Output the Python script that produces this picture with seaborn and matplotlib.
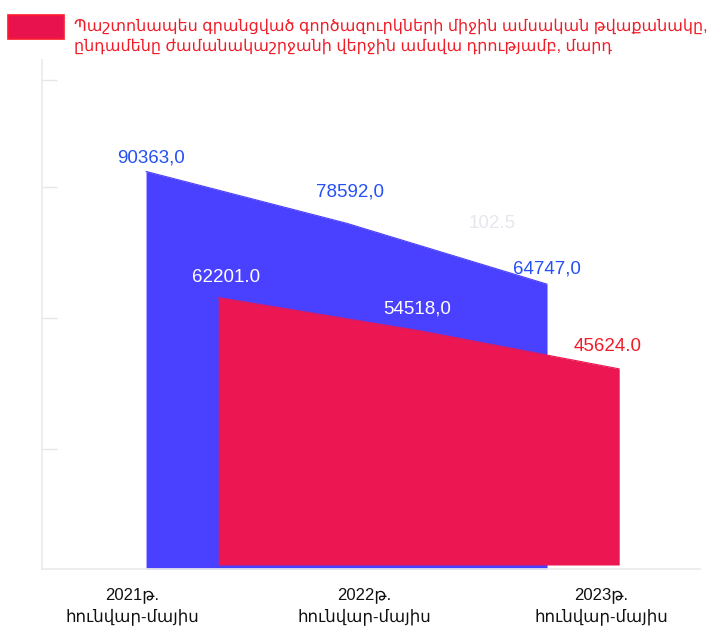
import numpy as np
import pandas as pd
import matplotlib.pyplot as plt
from matplotlib.patches import Rectangle
import seaborn as sns

PERIODS = ['2021թ.\nհունվար-մայիս', '2022թ.\nհունվար-մայիս', '2023թ.\nհունվար-մայիս']
BLUE_VALUES = [90363.0, 78592.0, 64747.0]
RED_VALUES = [62201.0, 54518.0, 45624.0]
BLUE_LABELS = ['90363,0', '78592,0', '64747,0']
RED_LABELS = ['62201.0', '54518,0', '45624.0']
EXTRA_LABEL = '102.5'
LEGEND_TEXT = ('Պաշտոնապես գրանցված գործազուրկների միջին ամսական թվաքանակը,\n'
               'ընդամենը ժամանակաշրջանի վերջին ամսվա դրությամբ, մարդ')

BLUE = '#4a40ff'
RED = '#eb1652'
BLUE_TXT = '#2450f5'
RED_TXT = '#f01c28'
W, H = 725, 627

sns.set_theme(style='white')
plt.rcParams['font.family'] = ['Liberation Sans', 'DejaVu Sans']

fig = plt.figure(figsize=(W / 100, H / 100), dpi=100)
ax = fig.add_axes([42 / W, 1 - 569 / H, 658 / W, 509 / H])
ymax = 115700
ax.set_xlim(-0.519, 2.763)
ax.set_ylim(0, ymax)

df_blue = pd.DataFrame({'x': np.arange(3), 'value': BLUE_VALUES})
df_red = pd.DataFrame({'x': np.arange(3) + 0.36, 'value': RED_VALUES})

# back series (blue)
ax.fill_between(df_blue['x'], 0, df_blue['value'], color=BLUE, lw=0, zorder=2)
sns.lineplot(data=df_blue, x='x', y='value', ax=ax, color=BLUE, lw=0.8, zorder=3)

# front series (red), own scale + raised baseline for the perspective look
ax2 = ax.twinx()
red_range = 118400
off = 930
ax2.set_ylim(-off, red_range - off)
ax2.fill_between(df_red['x'], 0, df_red['value'], color=RED, lw=0, zorder=2)
sns.lineplot(data=df_red, x='x', y='value', ax=ax2, color=RED, lw=0.8, zorder=3)

blue_off = [(5, 13), (3, 31), (0, 15)]
red_off = [(8, 20), (-2, 22), (-12, 22)]
red_cols = ['white', 'white', RED_TXT]
for (x, v), lbl, o in zip(df_blue[['x', 'value']].values, BLUE_LABELS, blue_off):
    ax.annotate(lbl, (x, v), xytext=o, textcoords='offset pixels', ha='center',
                va='center', fontsize=13.5, color=BLUE_TXT, zorder=5)
for (x, v), lbl, o, c in zip(df_red[['x', 'value']].values, RED_LABELS, red_off, red_cols):
    ax2.annotate(lbl, (x, v), xytext=o, textcoords='offset pixels', ha='center',
                 va='center', fontsize=13.5, color=c, zorder=5)
fig.text(492 / W, 1 - 223 / H, EXTRA_LABEL, ha='center', va='center',
         fontsize=13.5, color='#e6e6ee')

# axes styling
for s in ['top', 'right']:
    ax.spines[s].set_visible(False)
    ax2.spines[s].set_visible(False)
ax2.spines['left'].set_visible(False)
ax2.spines['bottom'].set_visible(False)
ax.spines['left'].set_color('#ebebeb')
ax.spines['bottom'].set_color('#ebebeb')
ax2.set_yticks([])
ax2.set_ylabel('')
ax.set_ylabel('')
ax.set_xlabel('')
ax2.set_xlabel('')

ax.set_yticks([27277, 57055, 86833, 111157])
ax.set_yticklabels([])
ax.tick_params(axis='y', direction='in', length=11, color='#e6e6e6', width=1, left=True)

ax.set_xticks([-0.07, 1.09, 2.27])
ax.set_xticklabels(PERIODS, fontsize=12, color='#111111', linespacing=1.4)
ax.tick_params(axis='x', length=0, pad=13)

# legend
fig.patches.append(Rectangle((8 / W, 1 - 39 / H), 56 / W, 24 / H, transform=fig.transFigure,
                             facecolor='#e8124f', edgecolor='#ff1a2a', lw=1.2))
fig.text(74 / W, 1 - 36 / H, LEGEND_TEXT, ha='left', va='center', fontsize=11.5,
         color=RED_TXT, linespacing=1.3)

fig.savefig('out.png', dpi=100)
